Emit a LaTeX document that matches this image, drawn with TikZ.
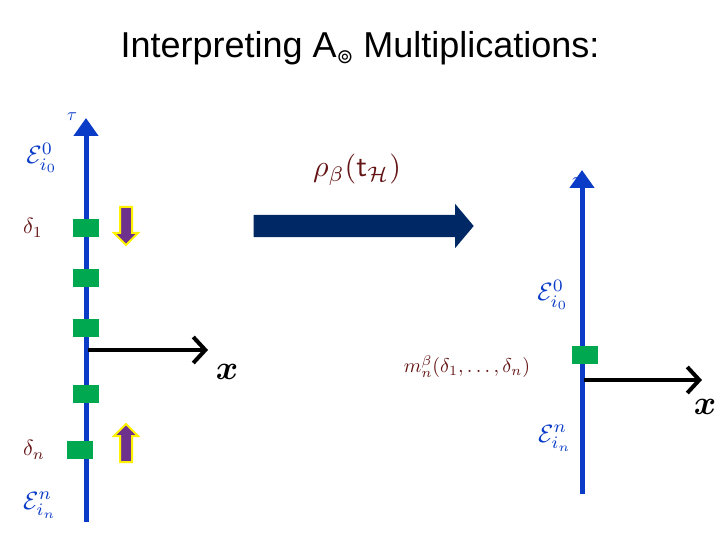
\documentclass[tikz,border=0pt]{standalone}
\usepackage{fix-cm}
\usepackage{fontspec}
\setmainfont{Liberation Sans}
\newfontfamily\djv{DejaVu Sans}
\usepackage{amsmath}
\usetikzlibrary{arrows.meta,shapes.arrows}
\definecolor{axblue}{RGB}{10,60,200}
\definecolor{sqgreen}{RGB}{0,168,80}
\definecolor{navy}{RGB}{0,40,100}
\definecolor{dred}{RGB}{100,20,20}
\definecolor{purp}{RGB}{110,50,140}
\tikzset{
 axis/.style={draw=axblue,line width=5pt,-{Stealth[length=18pt,width=24pt,inset=0pt]}},
 xax/.style={draw=black,line width=4pt,-{Straight Barb[length=12pt,width=26pt,line width=4pt]}},
 sq/.style={fill=sqgreen,minimum width=26pt,minimum height=18pt,inner sep=0pt},
 dlab/.style={text=dred},
 blab/.style={text=axblue},
 parr/.style={single arrow,draw=yellow,fill=purp,line width=2pt,minimum height=38pt,inner xsep=0pt,inner ysep=5pt,single arrow head extend=6pt,single arrow tip angle=90},
}
\begin{document}
\begin{tikzpicture}[x=1pt,y=-1pt]
\useasboundingbox (0,0) rectangle (720,540);
\node (title) at (360,48) {\fontsize{36}{38}\selectfont Interpreting A\raisebox{-6pt}{\djv\fontsize{20}{20}\selectfont ⊚} Multiplications:};
% left axis
\coordinate (lb) at (86,522);
\coordinate (lt) at (86,118);
\draw[axis] (lb) -- (lt);
\node[sq] (s1) at (86,228) {};
\node[sq] (s2) at (86,278) {};
\node[sq] (s3) at (86,328) {};
\node[sq] (s4) at (86,394) {};
\node[sq] (s5) at (80,450) {};
\node[parr,rotate=-90] (pd) at (126,223) {};
\node[parr,rotate=90] (pu) at (126,446) {};
\coordinate (lo) at (88,350);
\coordinate (lx) at (208,350);
\draw[xax] (lo) -- (lx);
\node[scale=3.4] (xl) at (227,372) {$\boldsymbol{x}$};
\node[blab,scale=1.8] (tl) at (72,117) {$\tau$};
\node[blab,scale=2.5] (e0) at (42,158) {$\mathcal{E}^{0}_{i_0}$};
\node[dlab,scale=2.2] (d1) at (33,228) {$\delta_1$};
\node[dlab,scale=2.2] (dn) at (34,450) {$\delta_n$};
\node[blab,scale=2.5] (en) at (40,505) {$\mathcal{E}^{n}_{i_n}$};
% middle arrow
\node[single arrow,fill=navy,minimum height=220pt,inner xsep=0pt,inner ysep=11pt,single arrow head extend=11pt,single arrow tip angle=100] (big) at (359,226) {};
\node[text=dred,scale=3] (rho) at (357,170) {$\rho_\beta(\mathsf{t}_{\mathcal{H}})$};
% right axis
\coordinate (rb) at (582,494);
\coordinate (rt) at (582,170);
\draw[axis] (rb) -- (rt);
\node[sq] (rs) at (585,355) {};
\coordinate (ro) at (584,380);
\coordinate (rx) at (702,380);
\draw[xax] (ro) -- (rx);
\node[scale=3.4] (xr) at (705,407) {$\boldsymbol{x}$};
\node[blab,scale=1.8] (tr) at (577,182) {$\tau$};
\node[blab,scale=2.5] (re0) at (553,295) {$\mathcal{E}^{0}_{i_0}$};
\node[dlab,scale=2.0] (m) at (467,367) {$m^{\beta}_{n}(\delta_1,\ldots,\delta_n)$};
\node[blab,scale=2.5] (ren) at (555,438) {$\mathcal{E}^{n}_{i_n}$};
\end{tikzpicture}
\end{document}
